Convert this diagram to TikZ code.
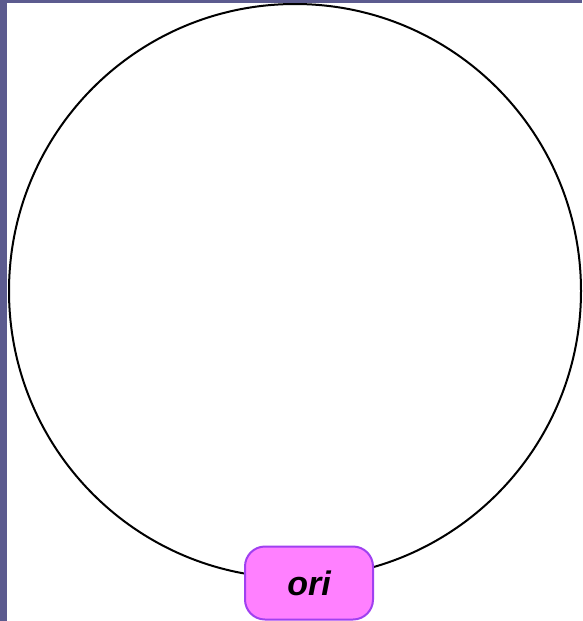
\documentclass[tikz,border=0pt]{standalone}
\usepackage{fontspec}
\setsansfont{Liberation Sans}
\usepackage{tikz}
\usetikzlibrary{positioning}
\definecolor{slidebg}{HTML}{5C5B8F}
\definecolor{orifill}{HTML}{FF80FF}
\definecolor{oridraw}{HTML}{A040F0}
\begin{document}
\begin{tikzpicture}[x=1pt,y=-1pt,
  plasmid/.style={line width=2pt,draw=black},
  feat/.style={draw=oridraw,fill=orifill,line width=2pt,rounded corners=20pt,
    minimum width=128pt,minimum height=73pt,inner sep=0pt,
    font=\fontsize{34}{40}\selectfont\sffamily\bfseries\itshape}]
\fill[slidebg] (0,0) rectangle (582,621);
\fill[white] (7,3) rectangle (582,621);
\useasboundingbox (0,0) rectangle (582,621);
% backbone
\draw[plasmid] (295,291) ellipse [x radius=286,y radius=287];
\node[feat] (ori) at (309,583) {ori};
\end{tikzpicture}
\end{document}
